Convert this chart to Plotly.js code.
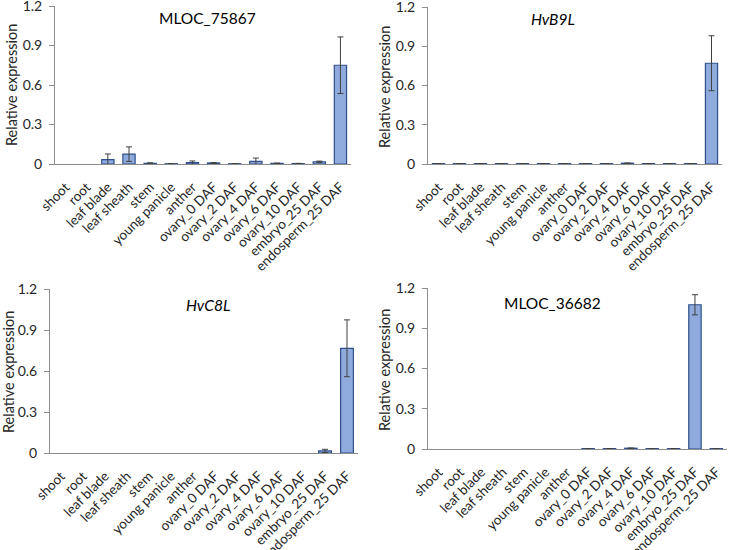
<!DOCTYPE html>
<html>
<head>
<meta charset="utf-8">
<script src="https://cdn.plot.ly/plotly-3.0.1.min.js"></script>
<style>
  html, body { margin: 0; padding: 0; background: #fff; }
  #myPlot { width: 729px; height: 550px; }
</style>
</head>
<body>
<div id="myPlot"></div>
<script>
// tissues, same order on every panel
var categories = ["shoot", "root", "leaf blade", "leaf sheath", "stem", "young panicle", "anther",
  "ovary_0 DAF", "ovary_2 DAF", "ovary_4 DAF", "ovary_6 DAF", "ovary_10 DAF", "embryo_25 DAF", "endosperm_25 DAF"];

var mloc75867    = [0, 0, 0.033, 0.075, 0.005, 0.002, 0.010, 0.008, 0.002, 0.020, 0.005, 0.003, 0.017, 0.750];
var mloc75867Err = [0, 0, 0.043, 0.055, 0.004, 0.001, 0.013, 0.003, 0.001, 0.025, 0.002, 0.002, 0.005, 0.215];

var hvB9L    = [0.003, 0.003, 0.003, 0.003, 0.003, 0.003, 0.003, 0.003, 0.003, 0.006, 0.003, 0.003, 0.003, 0.770];
var hvB9LErr = [0, 0, 0, 0, 0, 0, 0, 0, 0, 0.001, 0, 0, 0, 0.210];

var hvC8L    = [0, 0, 0, 0, 0, 0, 0, 0, 0, 0, 0, 0, 0.015, 0.766];
var hvC8LErr = [0, 0, 0, 0, 0, 0, 0, 0, 0, 0, 0, 0, 0.012, 0.208];

var mloc36682    = [0, 0, 0, 0, 0, 0, 0, 0.003, 0.003, 0.006, 0.003, 0.003, 1.075, 0.003];
var mloc36682Err = [0, 0, 0, 0, 0, 0, 0, 0, 0, 0.001, 0, 0, 0.075, 0];

var panelTitles = ["MLOC_75867", "<i>HvB9L</i>", "<i>HvC8L</i>", "MLOC_36682"];
var yTicks = [0, 0.3, 0.6, 0.9, 1.2];
var yTickText = ["0", "0.3", "0.6", "0.9", "1.2"];

var fontFam = "Lato, 'Liberation Sans', sans-serif";
var txtCol = "#262626";

function barTrace(vals, errs, n) {
  // a value of 0 means no bar is drawn at all
  return {
    type: "bar",
    x: categories,
    y: vals.map(function(v) { return v === 0 ? null : v; }),
    xaxis: "x" + (n > 1 ? n : ""),
    yaxis: "y" + (n > 1 ? n : ""),
    marker: {color: "#8faadc", line: {color: "#2f4f8a", width: 1.2}},
    error_y: {type: "data", array: errs, visible: true, color: "#404040", thickness: 1, width: 3},
    showlegend: false,
    hoverinfo: "x+y"
  };
}

var data = [
  barTrace(mloc75867, mloc75867Err, 1),
  barTrace(hvB9L, hvB9LErr, 2),
  barTrace(hvC8L, hvC8LErr, 3),
  barTrace(mloc36682, mloc36682Err, 4)
];

function xAx(dom, yname) {
  return {
    domain: dom, anchor: yname, type: "category",
    showline: true, linecolor: "#8c8c8c", linewidth: 1,
    ticks: "", tickangle: -45, ticklabelstandoff: 9,
    tickfont: {family: fontFam, size: 13.5, color: txtCol},
    showgrid: false, zeroline: false, fixedrange: true
  };
}
function yAx(dom, xname) {
  return {
    domain: dom, anchor: xname, range: [0, 1.2],
    tickvals: yTicks, ticktext: yTickText,
    showline: true, linecolor: "#8c8c8c", linewidth: 1,
    ticks: "outside", ticklen: 5, tickcolor: "#8c8c8c",
    ticklabeloverflow: "allow", ticklabelstandoff: 4,
    tickfont: {family: fontFam, size: 14, color: txtCol},
    showgrid: false, zeroline: false, fixedrange: true
  };
}

// pixel positions (729x550)
function px(v) { return v / 729; }
function py(v) { return 1 - v / 550; }

var annots = [];
var titlePos = [[207, 18], [553, 19], [207.5, 305], [552.5, 303]];
var yTitlePos = [[11, 85], [384, 87], [8, 372], [384, 370]];
for (var i = 0; i < 4; i++) {
  annots.push({
    xref: "paper", yref: "paper", x: px(titlePos[i][0]), y: py(titlePos[i][1]),
    xanchor: "center", yanchor: "middle", showarrow: false,
    text: panelTitles[i], font: {family: fontFam, size: 15.5, color: "#000"}
  });
  annots.push({
    xref: "paper", yref: "paper", x: px(yTitlePos[i][0]), y: py(yTitlePos[i][1]),
    xanchor: "center", yanchor: "middle", showarrow: false, textangle: -90,
    text: "Relative expression", font: {family: fontFam, size: 14.5, color: txtCol}
  });
}

var layout = {
  width: 729, height: 550,
  margin: {l: 0, r: 0, t: 0, b: 0},
  paper_bgcolor: "#fff", plot_bgcolor: "#fff",
  bargap: 0.42,
  xaxis:  xAx([px(55), px(351)], "y"),
  yaxis:  yAx([py(164), py(6)], "x"),
  xaxis2: xAx([px(428), px(722)], "y2"),
  yaxis2: yAx([py(164), py(7)], "x2"),
  xaxis3: xAx([px(50), px(358)], "y3"),
  yaxis3: yAx([py(453), py(289)], "x3"),
  xaxis4: xAx([px(428), px(727)], "y4"),
  yaxis4: yAx([py(449), py(288)], "x4"),
  annotations: annots
};

Plotly.newPlot("myPlot", data, layout, {displayModeBar: false, staticPlot: true});
</script>
</body>
</html>
